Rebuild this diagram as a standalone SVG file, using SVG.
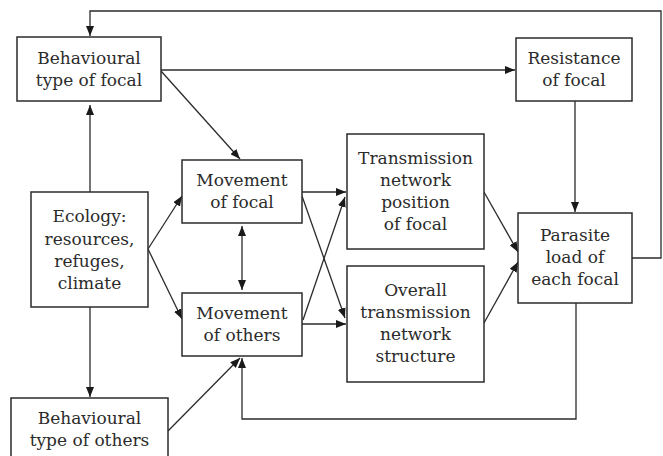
<svg xmlns="http://www.w3.org/2000/svg" width="663" height="456" viewBox="0 0 663 456">
<style>
.box{fill:#fff;stroke:#2b2b2b;stroke-width:1.5}
.t{font-family:"DejaVu Serif","Liberation Serif",serif;font-size:17px;fill:#2b2b2b;text-anchor:middle}
.c{fill:none;stroke:#2b2b2b;stroke-width:1.3;marker-end:url(#ah)}
.n{fill:none;stroke:#2b2b2b;stroke-width:1.3}
</style>
<defs>
<marker id="ah" viewBox="0 0 10 8" refX="10" refY="4" markerWidth="10" markerHeight="8" markerUnits="userSpaceOnUse" orient="auto-start-reverse">
<path d="M0,0 L10,4 L0,8 z" fill="#1a1a1a"/>
</marker>
</defs>
<rect width="663" height="456" fill="#fff"/>
<g id="connectors">
<path class="c" d="M632,258 H661 V11 H90 V36"/>
<path class="c" d="M161,70 H515"/>
<path class="c" d="M161,71 L240,159"/>
<path class="c" d="M90,192 V105"/>
<path class="c" d="M90,307 V397"/>
<path class="c" d="M148,249 L182,196"/>
<path class="c" d="M148,249 L182,319"/>
<path class="c" d="M242,226 V290" style="marker-start:url(#ah)"/>
<path class="c" d="M302,192 H346"/>
<path class="c" d="M302,324 H346"/>
<path class="c" d="M302,196 L345,318"/>
<path class="c" d="M303,320 L345,197"/>
<path class="c" d="M484,192 L518,252"/>
<path class="c" d="M484,323 L518,262"/>
<path class="c" d="M575,101 V212"/>
<path class="c" d="M576,303 V419 H242 V358"/>
<path class="c" d="M168,431 L240,358"/>
</g>
<g id="behav-focal"><rect class="box" x="17" y="37" width="144" height="64"/>
<text class="t" x="89" y="64">Behavioural</text><text class="t" x="89" y="86">type of focal</text></g>
<g id="resistance"><rect class="box" x="516" y="38" width="116" height="63"/>
<text class="t" x="574" y="64">Resistance</text><text class="t" x="574" y="86">of focal</text></g>
<g id="ecology"><rect class="box" x="31" y="192" width="117" height="115"/>
<text class="t" x="89.5" y="222">Ecology:</text><text class="t" x="89.5" y="245">resources,</text><text class="t" x="89.5" y="267">refuges,</text><text class="t" x="89.5" y="289">climate</text></g>
<g id="move-focal"><rect class="box" x="182" y="160" width="120" height="63"/>
<text class="t" x="242" y="186">Movement</text><text class="t" x="242" y="208">of focal</text></g>
<g id="move-others"><rect class="box" x="182" y="293" width="120" height="63"/>
<text class="t" x="242" y="319">Movement</text><text class="t" x="242" y="341">of others</text></g>
<g id="trans-pos"><rect class="box" x="347" y="134" width="137" height="115"/>
<text class="t" x="415.5" y="164">Transmission</text><text class="t" x="415.5" y="186">network</text><text class="t" x="415.5" y="208">position</text><text class="t" x="415.5" y="230">of focal</text></g>
<g id="overall"><rect class="box" x="347" y="266" width="137" height="116"/>
<text class="t" x="415.5" y="296">Overall</text><text class="t" x="415.5" y="318">transmission</text><text class="t" x="415.5" y="340">network</text><text class="t" x="415.5" y="362">structure</text></g>
<g id="parasite"><rect class="box" x="518" y="213" width="114" height="90"/>
<text class="t" x="575" y="241">Parasite</text><text class="t" x="575" y="263">load of</text><text class="t" x="575" y="285">each focal</text></g>
<g id="behav-others"><rect class="box" x="11" y="398" width="157" height="72"/>
<text class="t" x="89.5" y="424">Behavioural</text><text class="t" x="89.5" y="446">type of others</text></g>
</svg>
